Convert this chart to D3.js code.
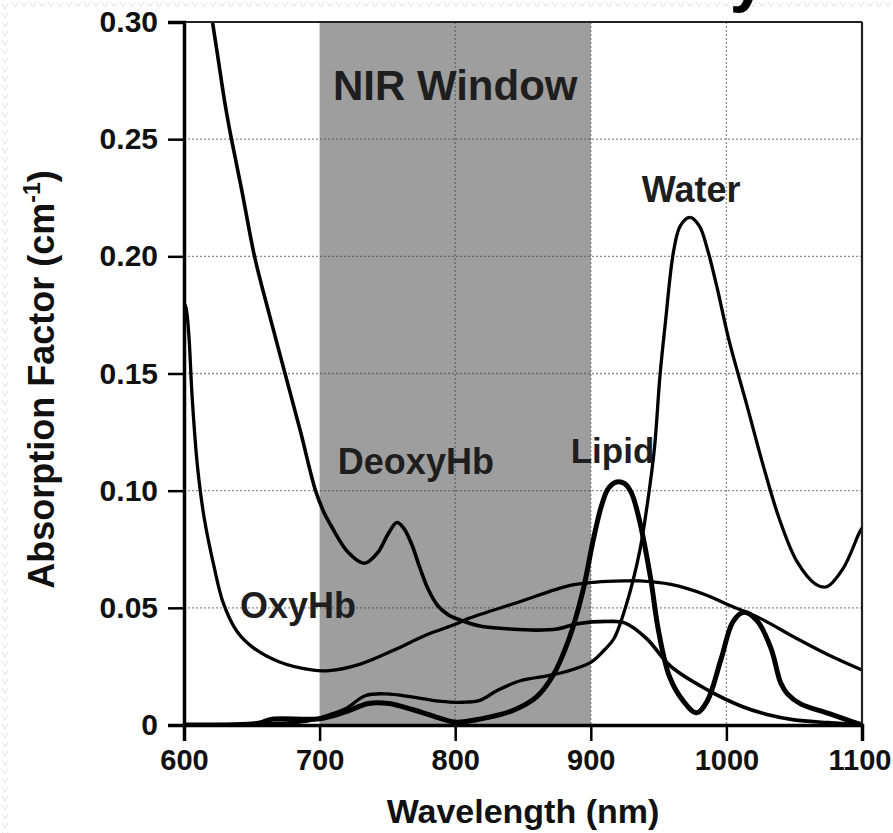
<!DOCTYPE html>
<html>
<head>
<meta charset="utf-8">
<script src="https://cdn.jsdelivr.net/npm/d3@7"></script>
<style>
html,body{margin:0;padding:0;background:#fff;}
svg{display:block;}
text{font-family:"Liberation Sans",Arial,Helvetica,sans-serif;font-weight:bold;}
</style>
</head>
<body>
<script>
// ---- data ----
const xTicks = [600, 700, 800, 900, 1000, 1100];
const yTicks = [0, 0.05, 0.10, 0.15, 0.20, 0.25, 0.30];
const yTickLabels = ["0", "0.05", "0.10", "0.15", "0.20", "0.25", "0.30"];
const nirWindow = [700, 900];
const gridX = [800, 900, 1000];
const gridY = [0.05, 0.10, 0.15, 0.20, 0.25];

const oxyWl  = [600,601.5,603.5,606,610,615,622,629,639,651,670,694,707,730,755,779,800,810,847,884,904,925,936,959,985,1000,1025,1050,1075,1100];
const oxyVal = [0.180,0.178,0.167,0.140,0.110,0.088,0.068,0.052,0.040,0.033,0.027,0.0235,0.0232,0.026,0.032,0.0385,0.043,0.0455,0.0525,0.0595,0.061,0.0615,0.0615,0.060,0.0555,0.0516,0.0455,0.0375,0.030,0.0235];

const deoxyWl  = [621,625,630,635,643,652,663,674.5,686,697,703,709,721,733,743,750,757,762,768,774,780,787,795,805,820,840,860,875,890,912,925,941,959,986,1012,1030,1050,1075,1100];
const deoxyVal = [0.300,0.285,0.266,0.250,0.227,0.200,0.175,0.150,0.125,0.100,0.091,0.0845,0.0737,0.069,0.0737,0.081,0.0864,0.084,0.077,0.067,0.058,0.051,0.047,0.0445,0.042,0.041,0.0405,0.041,0.0432,0.0442,0.0436,0.037,0.025,0.015,0.0078,0.0045,0.0022,0.001,0.0];

const waterWl  = [600,650,690,702,719,734,749,769,788,806,818,831,848,868,880,900,910,917,926,936,942,947,951,955,961,966,973,980,986,993,1002,1015,1027,1039,1052,1066,1074,1086,1098,1100];
const waterVal = [0.0,0.0005,0.0015,0.0034,0.0069,0.0126,0.0133,0.0119,0.0102,0.0097,0.0105,0.0147,0.0189,0.021,0.0225,0.0267,0.032,0.0368,0.051,0.074,0.0956,0.1185,0.149,0.1717,0.202,0.213,0.2166,0.213,0.203,0.187,0.164,0.1367,0.111,0.088,0.0698,0.060,0.059,0.0667,0.082,0.084];

const lipidWl  = [600,655,665,700,719,736,751,769,786,800,818,843,860,872,884,894,902,908,913,919,925,930,936,944,950,958,968,978,986,996,1005,1013,1023,1033,1040,1045,1055,1074,1090,1100];
const lipidVal = [0.0,0.0008,0.0025,0.0027,0.0056,0.0092,0.0092,0.0065,0.0034,0.0012,0.0025,0.0063,0.012,0.021,0.0368,0.0568,0.0795,0.0938,0.101,0.1037,0.103,0.099,0.087,0.063,0.040,0.0207,0.0104,0.0052,0.0104,0.028,0.0442,0.0481,0.0442,0.0325,0.018,0.0133,0.0089,0.0052,0.002,0.0];

const labels = [
  {text:"NIR Window", wl:800, v:0.2667, size:42},
  {text:"Water", wl:974, v:0.223, size:36},
  {text:"Lipid", wl:916, v:0.112, size:35},
  {text:"DeoxyHb", wl:771, v:0.107, size:36},
  {text:"OxyHb", wl:684, v:0.0455, size:36}
];

// ---- layout ----
const W = 893, H = 833;
const L = 184, R = 862, T = 22, B = 725;

const svg = d3.select("body").append("svg").attr("width", W).attr("height", H);

const x = d3.scaleLinear().domain([600, 1100]).range([L, R]);
const y = d3.scaleLinear().domain([0, 0.30]).range([B, T]);

svg.append("defs").append("clipPath").attr("id","plot")
  .append("rect").attr("x", L).attr("y", T).attr("width", R-L).attr("height", B-T);

// faint page-background zigzag along the left and top edges
const zz = d3.path();
for (let yy = 4; yy < H; yy += 9) { zz.moveTo(2, yy); zz.lineTo(5, yy + 5); zz.lineTo(8, yy); }
for (let xx = 12; xx < W; xx += 9) { zz.moveTo(xx, 2); zz.lineTo(xx + 3, 7); zz.lineTo(xx + 6, 2); }
svg.append("path").attr("d", zz.toString()).attr("fill", "none")
  .attr("stroke", "#e4e4e4").attr("stroke-width", 1);

// fragment of the cropped title above the chart
svg.append("text").attr("x", 748).attr("y", -1).attr("text-anchor", "middle")
  .attr("font-size", 66).attr("fill", "#000").text("y");

// NIR window shade
svg.append("rect")
  .attr("x", x(nirWindow[0])).attr("y", y(0.30))
  .attr("width", x(nirWindow[1]) - x(nirWindow[0]))
  .attr("height", y(0) - y(0.30))
  .attr("fill", "#9e9e9e");

// grid
const grid = svg.append("g").attr("stroke", "#444").attr("stroke-width", 1.3)
  .attr("stroke-dasharray", "2,2").attr("opacity", 0.6);
grid.selectAll("line.h").data(gridY).join("line")
  .attr("x1", L).attr("x2", R).attr("y1", d => y(d)).attr("y2", d => y(d));
grid.selectAll("line.v").data(gridX).join("line")
  .attr("y1", T).attr("y2", B).attr("x1", d => x(d)).attr("x2", d => x(d));

// curves
const line = d3.line().x(d => x(d[0])).y(d => y(d[1])).curve(d3.curveCatmullRom.alpha(0.5));
const series = [
  {wl: oxyWl, v: oxyVal, w: 3.3},
  {wl: deoxyWl, v: deoxyVal, w: 3.6},
  {wl: waterWl, v: waterVal, w: 3.3},
  {wl: lipidWl, v: lipidVal, w: 5}
];
const cg = svg.append("g").attr("clip-path", "url(#plot)");
series.forEach(s => {
  cg.append("path")
    .datum(s.wl.map((w, i) => [w, s.v[i]]))
    .attr("d", line)
    .attr("fill", "none")
    .attr("stroke", "#000")
    .attr("stroke-width", s.w)
    .attr("stroke-linejoin", "round")
    .attr("stroke-linecap", "round");
});

// frame (top & right)
svg.append("line").attr("x1", L).attr("x2", R).attr("y1", T).attr("y2", T)
  .attr("stroke", "#222").attr("stroke-width", 2.2);
svg.append("line").attr("x1", R).attr("x2", R).attr("y1", T).attr("y2", B)
  .attr("stroke", "#222").attr("stroke-width", 2.2);

// axes
const xAxis = d3.axisBottom(x).tickValues(xTicks).tickSize(16).tickPadding(8).tickFormat(d3.format("d"));
const gx = svg.append("g").attr("transform", `translate(0,${B})`).call(xAxis);
gx.select(".domain").attr("stroke", "#000").attr("stroke-width", 3.5);
gx.selectAll(".tick line").attr("stroke", "#000").attr("stroke-width", 2.5);
gx.selectAll(".tick text").attr("font-size", 29).attr("fill", "#111")
  .attr("font-family", "'Liberation Sans',Arial,sans-serif").attr("font-weight", "bold");
gx.selectAll(".tick text").filter(d => d === 1100).attr("text-anchor", "end").attr("dx", 29);

const yAxis = d3.axisLeft(y).tickValues(yTicks).tickSize(16).tickPadding(10)
  .tickFormat((d, i) => yTickLabels[i]);
const gy = svg.append("g").attr("transform", `translate(${L},0)`).call(yAxis);
gy.select(".domain").attr("stroke", "#000").attr("stroke-width", 3.5);
gy.selectAll(".tick line").attr("stroke", "#000").attr("stroke-width", 2.5);
gy.selectAll(".tick text").attr("font-size", 30).attr("fill", "#111")
  .attr("font-family", "'Liberation Sans',Arial,sans-serif").attr("font-weight", "bold");

// annotations
svg.append("g").selectAll("text").data(labels).join("text")
  .attr("x", d => x(d.wl)).attr("y", d => y(d.v))
  .attr("text-anchor", "middle")
  .attr("font-size", d => d.size)
  .attr("fill", "#1e1e1e")
  .text(d => d.text);

// axis titles
svg.append("text").attr("x", 523).attr("y", 823)
  .attr("text-anchor", "middle").attr("font-size", 34).attr("fill", "#111")
  .text("Wavelength (nm)");

const yl = svg.append("text")
  .attr("transform", `translate(54,${(T + B) / 2 + 6}) rotate(-90)`)
  .attr("text-anchor", "middle").attr("font-size", 36).attr("fill", "#111");
yl.append("tspan").text("Absorption Factor (cm");
yl.append("tspan").attr("font-size", 23).attr("dy", -14).text("-1");
yl.append("tspan").attr("dy", 14).text(")");
</script>
</body>
</html>
